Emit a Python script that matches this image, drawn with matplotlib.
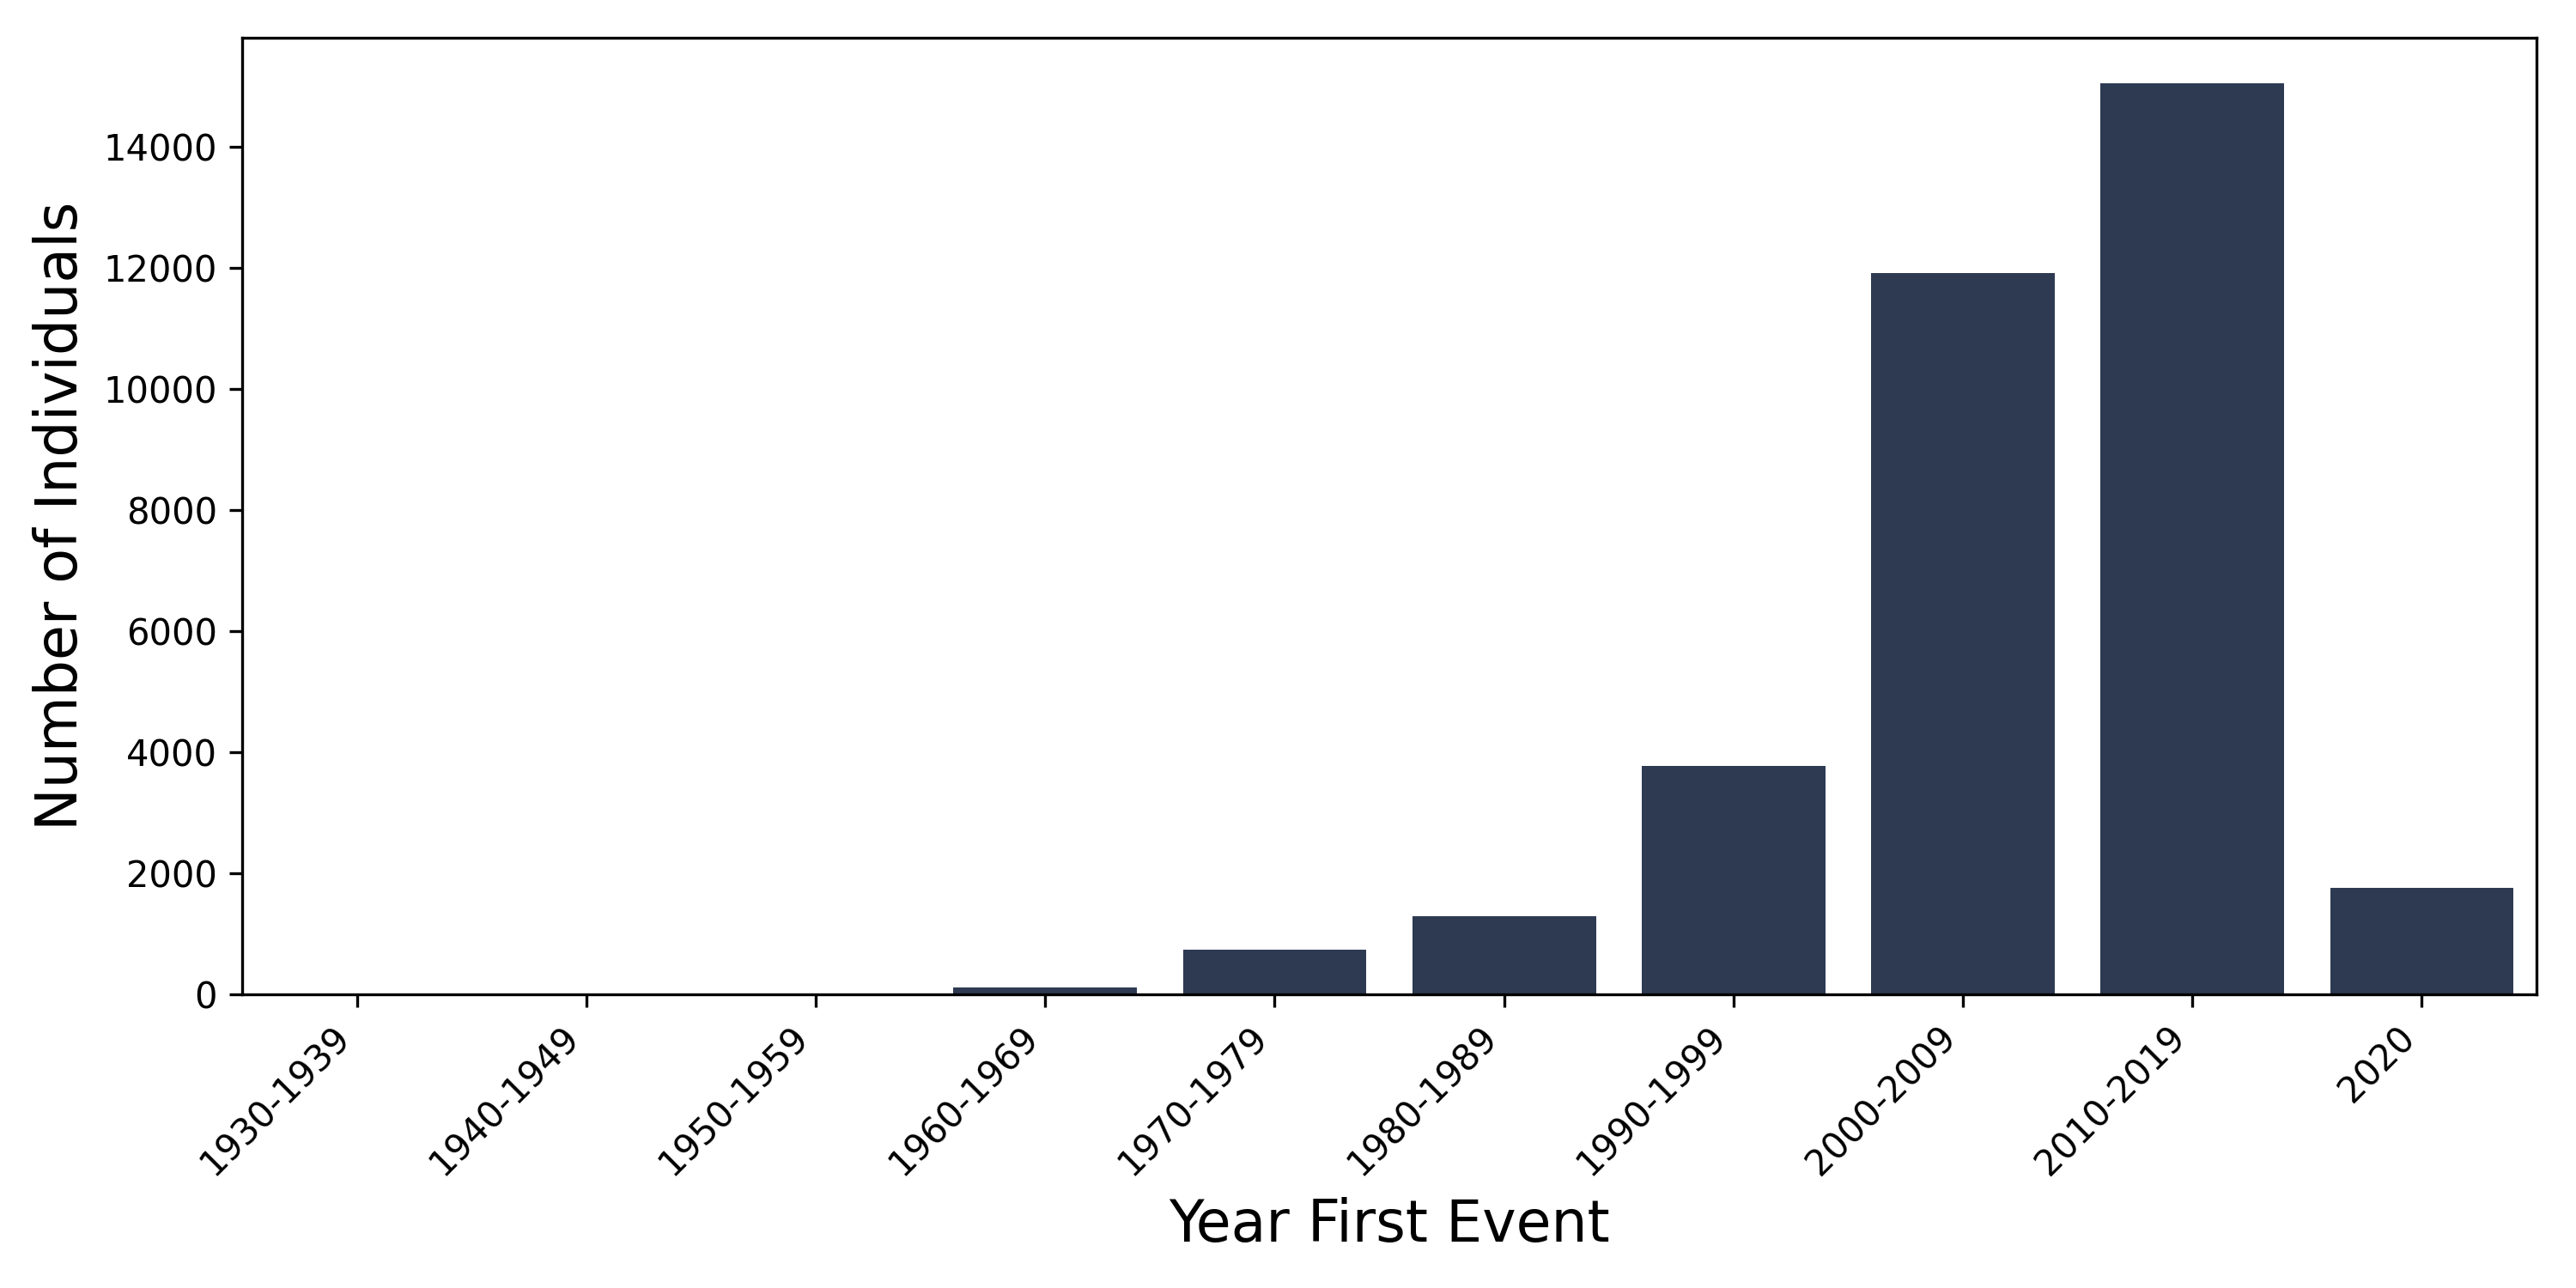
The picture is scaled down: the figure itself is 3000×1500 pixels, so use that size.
import matplotlib
matplotlib.use("Agg")
import matplotlib.pyplot as plt

categories = ["1930-1939", "1940-1949", "1950-1959", "1960-1969", "1970-1979",
              "1980-1989", "1990-1999", "2000-2009", "2010-2019", "2020"]
counts = [2, 4, 10, 120, 740, 1290, 3770, 11920, 15050, 1760]

bar_color = "#2e3a52"

fig = plt.figure(figsize=(10, 5), dpi=300)
ax = fig.add_axes([0.094, 0.228, 0.8907, 0.7427])
x = list(range(len(categories)))
ax.bar(x, counts, width=0.8, color=bar_color)
ax.set_xlim(-0.5, len(categories) - 0.5)
ax.set_xticks(x)
ax.set_xticklabels(categories, rotation=45, ha="right", fontsize=10)
ax.tick_params(axis="y", labelsize=10)
ax.set_yticks([0, 2000, 4000, 6000, 8000, 10000, 12000, 14000])
ax.set_xlabel("Year First Event", fontsize=16)
ax.set_ylabel("Number of Individuals", fontsize=16)
fig.savefig("out.png", dpi=300)
